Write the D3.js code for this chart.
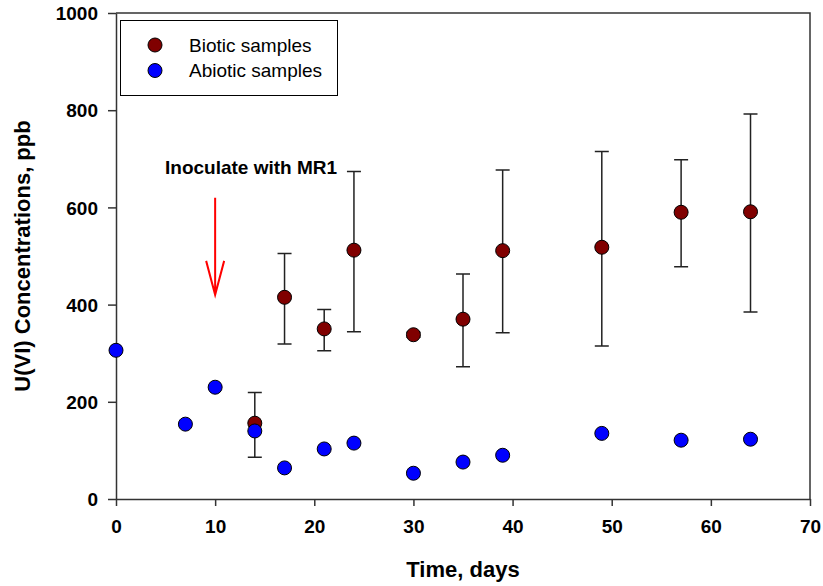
<!DOCTYPE html>
<html lang="en">
  <head>
    <meta charset="utf-8">
    <title>U(VI) concentrations</title>
    <style>
      body { margin: 0; background: #fff; }
      text { font-family: "Liberation Sans", Arial, sans-serif; }
    </style>
  </head>
  <body>
  <script src="https://cdn.jsdelivr.net/npm/d3@7"></script>
  <script>
    // data
    var bioticDays = [14, 17, 21, 24, 30, 35, 39, 49, 57, 64];
    var bioticMean = [156, 415, 350, 512, 338, 370, 511, 518, 590, 591];
    var bioticLow  = [86, 319, 305, 344, 333, 272, 342, 315, 478, 385];
    var bioticHigh = [219, 505, 390, 674, 343, 463, 677, 715, 698, 792];

    var abioticDays = [0, 7, 10, 14, 17, 21, 24, 30, 35, 39, 49, 57, 64];
    var abioticMean = [306, 154, 230, 140, 64, 103, 115, 53, 76, 90, 135, 121, 123];

    var xTicks = [0, 10, 20, 30, 40, 50, 60, 70];
    var yTicks = [0, 200, 400, 600, 800, 1000];
    var legendLabels = ["Biotic samples", "Abiotic samples"];
    var colors = ["#800000", "#0000ff"];

    var width = 823, height = 586;
    var pLeft = 116, pRight = 810, pTop = 13, pBottom = 499;

    var svg = d3.select("body").append("svg")
      .attr("width", width).attr("height", height);

    var x = d3.scaleLinear().domain([0, 70]).range([pLeft, pRight]);
    var y = d3.scaleLinear().domain([0, 1000]).range([pBottom, pTop]);

    // frame (top and right)
    svg.append("path")
      .attr("d", "M" + pLeft + "," + pTop + "H" + pRight + "V" + pBottom)
      .attr("fill", "none").attr("stroke", "#333").attr("stroke-width", 1.5);

    var xAxis = svg.append("g")
      .attr("transform", "translate(0," + pBottom + ")")
      .call(d3.axisBottom(x).tickValues(xTicks).tickSize(7).tickPadding(14).tickSizeOuter(0));
    var yAxis = svg.append("g")
      .attr("transform", "translate(" + pLeft + ",0)")
      .call(d3.axisLeft(y).tickValues(yTicks).tickFormat(d3.format("d")).tickSize(8).tickPadding(10).tickSizeOuter(0));

    [xAxis, yAxis].forEach(function(a) {
      a.select(".domain").attr("stroke", "#333").attr("stroke-width", 1.5);
      a.selectAll(".tick line").attr("stroke", "#333").attr("stroke-width", 1.5);
      a.selectAll(".tick text")
        .attr("fill", "#000")
        .style("font-size", "19px").style("font-weight", "bold")
        .style("font-family", "'Liberation Sans', Arial, sans-serif");
    });
    xAxis.selectAll(".tick text").attr("dy", "0.71em");
    yAxis.selectAll(".tick text").attr("dy", "0.35em");

    // axis titles
    svg.append("text")
      .attr("x", (pLeft + pRight) / 2).attr("y", 577)
      .attr("text-anchor", "middle")
      .style("font-size", "22px").style("font-weight", "bold")
      .text("Time, days");
    svg.append("text")
      .attr("transform", "translate(30," + ((pTop + pBottom) / 2) + ") rotate(-90)")
      .attr("text-anchor", "middle")
      .style("font-size", "22px").style("font-weight", "bold")
      .text("U(VI) Concentrations, ppb");

    // annotation
    svg.append("text")
      .attr("x", 165).attr("y", 174)
      .style("font-size", "19px").style("font-weight", "bold")
      .text("Inoculate with MR1");
    var ax = x(10), ay0 = y(620), ay1 = y(420);
    svg.append("path")
      .attr("d", "M" + ax + "," + ay0 + "V" + ay1 +
                 "M" + (ax - 9) + "," + (ay1 - 34) + "L" + ax + "," + ay1 + "L" + (ax + 9) + "," + (ay1 - 34))
      .attr("fill", "none").attr("stroke", "#ff0000").attr("stroke-width", 2);

    // error bars
    var eb = svg.append("g").attr("stroke", "#222").attr("stroke-width", 1.5).attr("fill", "none");
    eb.selectAll("path").data(bioticDays).enter().append("path")
      .attr("d", function(d, i) {
        var cx = x(d), lo = y(bioticLow[i]), hi = y(bioticHigh[i]);
        return "M" + cx + "," + lo + "V" + hi +
               "M" + (cx - 7) + "," + hi + "H" + (cx + 7) +
               "M" + (cx - 7) + "," + lo + "H" + (cx + 7);
      });

    // biotic points
    svg.append("g").selectAll("circle").data(bioticDays).enter().append("circle")
      .attr("cx", function(d) { return x(d); })
      .attr("cy", function(d, i) { return y(bioticMean[i]); })
      .attr("r", 7)
      .attr("fill", colors[0]).attr("stroke", "#000").attr("stroke-width", 1);

    // abiotic points
    svg.append("g").selectAll("circle").data(abioticDays).enter().append("circle")
      .attr("cx", function(d) { return x(d); })
      .attr("cy", function(d, i) { return y(abioticMean[i]); })
      .attr("r", 7)
      .attr("fill", colors[1]).attr("stroke", "#000").attr("stroke-width", 1);

    // legend
    var legend = svg.append("g");
    legend.append("rect")
      .attr("x", 120.5).attr("y", 20.5).attr("width", 217).attr("height", 75)
      .attr("fill", "#fff").attr("stroke", "#000").attr("stroke-width", 1);
    var items = legend.selectAll("g.item").data(legendLabels).enter().append("g")
      .attr("class", "item")
      .attr("transform", function(d, i) { return "translate(0," + (45 + i * 25.5) + ")"; });
    items.append("circle")
      .attr("cx", 155).attr("cy", 0).attr("r", 7)
      .attr("fill", function(d, i) { return colors[i]; })
      .attr("stroke", "#000").attr("stroke-width", 1);
    items.append("text")
      .attr("x", 189).attr("dy", "0.35em")
      .style("font-size", "19px")
      .text(function(d) { return d; });
  </script>
  </body>
</html>
